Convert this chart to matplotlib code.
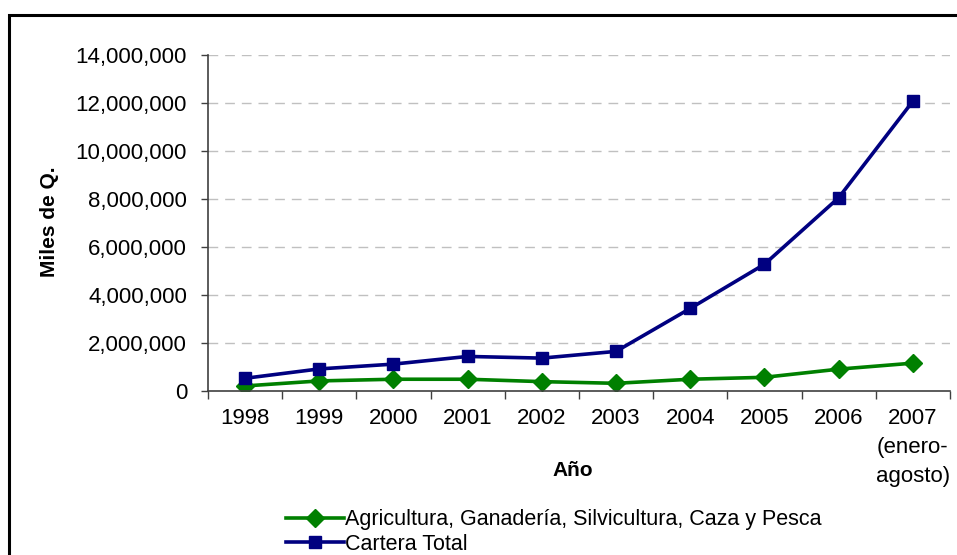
import matplotlib.pyplot as plt
from matplotlib.patches import Rectangle
from matplotlib.ticker import FuncFormatter, MultipleLocator

plt.rcParams['font.family'] = ['Liberation Sans', 'DejaVu Sans']

# datos en miles de quetzales
anios = ['1998', '1999', '2000', '2001', '2002', '2003', '2004', '2005', '2006',
         '2007\n(enero-\nagosto)']
agricultura = [210000, 420000, 490000, 490000, 390000, 320000, 490000, 570000, 910000, 1160000]
cartera_total = [530000, 920000, 1120000, 1440000, 1370000, 1650000, 3440000, 5280000, 8050000, 12070000]

fig = plt.figure(figsize=(9.57, 5.55), dpi=100)
ax = fig.add_axes([0.2173, 0.2955, 0.7753, 0.6055])

x = range(len(anios))
ax.plot(x, agricultura, color='#008000', lw=2.6, marker='D', markersize=9,
        label='Agricultura, Ganadería, Silvicultura, Caza y Pesca')
ax.plot(x, cartera_total, color='#000080', lw=2.6, marker='s', markersize=8,
        label='Cartera Total')

ax.set_xlim(-0.5, len(anios) - 0.5)
ax.set_ylim(0, 14000000)
ax.yaxis.set_major_locator(MultipleLocator(2000000))
ax.yaxis.set_major_formatter(FuncFormatter(lambda v, p: f'{v:,.0f}'))
ax.set_xticks(list(x))
ax.set_xticklabels(anios, fontsize=16, linespacing=1.5)
ax.tick_params(axis='x', length=0, pad=12)
ax.set_xticks([i - 0.5 for i in range(len(anios) + 1)], minor=True)
ax.tick_params(axis='x', which='minor', length=6, width=1, color='#404040')
ax.tick_params(axis='y', labelsize=16, length=5, width=1, color='#404040', pad=10)

for v in range(2000000, 14000001, 2000000):
    ax.axhline(v, color='#c0c0c0', lw=1, ls=(0, (7, 5)), zorder=0)

for s in ['top', 'right']:
    ax.spines[s].set_visible(False)
for s in ['left', 'bottom']:
    ax.spines[s].set_color('#404040')
    ax.spines[s].set_linewidth(1.2)

fig.text(0.052, 0.6, 'Miles de Q.', rotation=90, fontsize=15, fontweight='bold',
         ha='center', va='center')
fig.text(0.599, 0.153, 'Año', fontsize=15, fontweight='bold', ha='center', va='center')

fig.legend(loc='lower left', bbox_to_anchor=(0.29, -0.015), frameon=False, fontsize=15.5,
           handlelength=2.7, handletextpad=0.05, labelspacing=0.15, borderaxespad=0)

# marco exterior
fig.patches.append(Rectangle((0.0095, -0.05), 1.1, 1.0225, transform=fig.transFigure,
                             fill=False, edgecolor='black', lw=2.2, clip_on=False))

fig.savefig('out.png', dpi=100)
